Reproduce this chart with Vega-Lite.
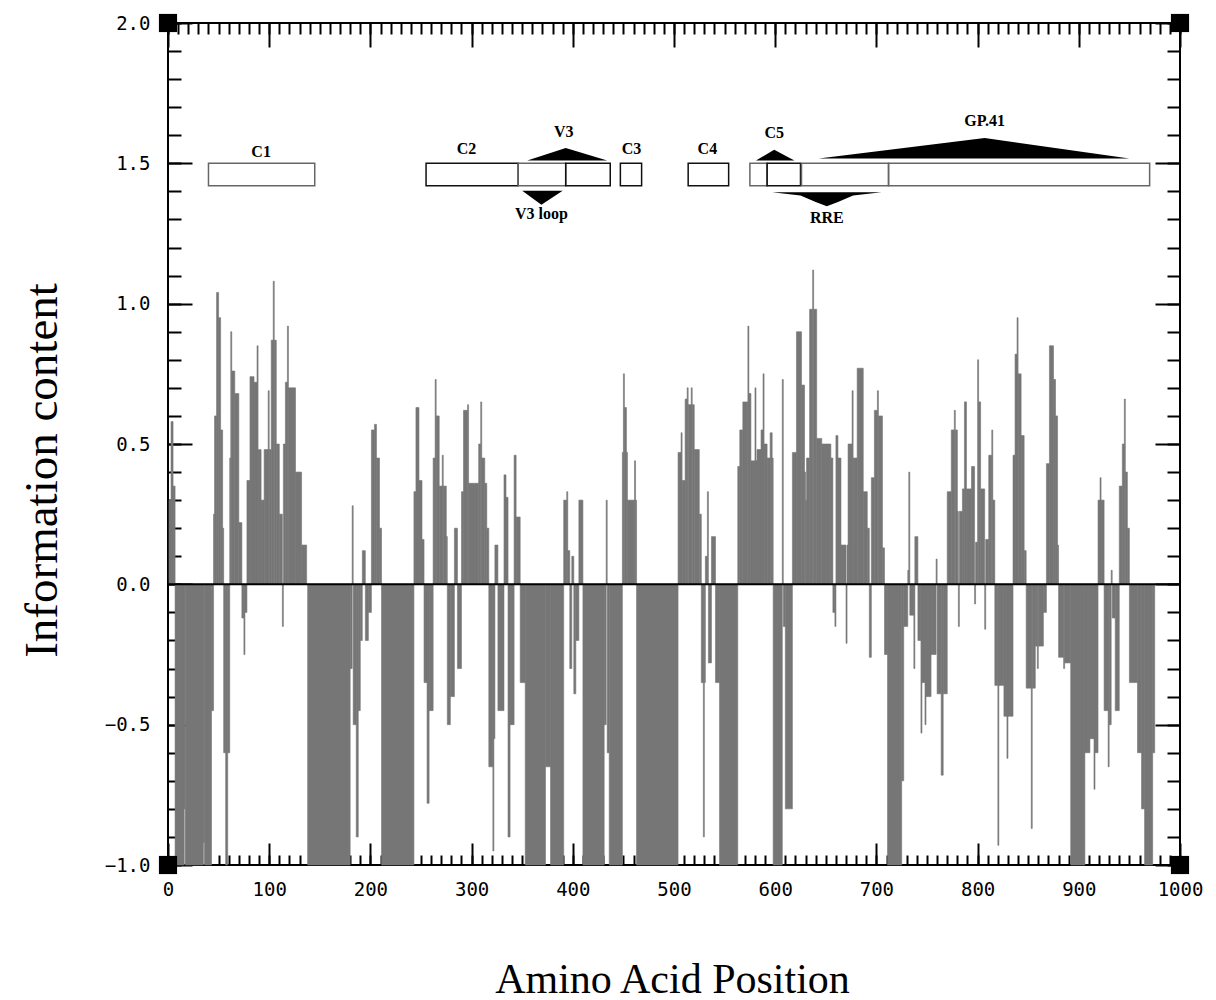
{
  "$schema": "https://vega.github.io/schema/vega-lite/v6.json",
  "width": 1012,
  "height": 842,
  "autosize": {"type": "none"},
  "padding": {"left": 168, "top": 23, "right": 36, "bottom": 135},
  "background": "white",
  "config": {
    "view": {"stroke": "black", "strokeWidth": 2},
    "axis": {"grid": false, "domain": false, "tickColor": "black", "tickWidth": 2, "labelFont": "DejaVu Sans Mono", "labelFontSize": 19, "labelColor": "black", "labelFlush": false, "labelOverlap": false, "labelBound": false, "titleFont": "Liberation Serif", "titleFontWeight": "normal", "titleColor": "black"}
  },
  "resolve": {"axis": {"x": "independent", "y": "independent"}},
  "datasets": {
    "ic": [
      {"s":1,"e":3,"v":0.3},{"s":3,"e":5,"v":0.58},{"s":5,"e":7,"v":0.35},{"s":7,"e":16,"v":-1},{"s":16,"e":17,"v":-0.8},{"s":17,"e":35,"v":-1},{"s":35,"e":36,"v":-0.92},{"s":36,"e":43,"v":-1},{"s":43,"e":45,"v":-0.45},
      {"s":45,"e":46,"v":0.25},{"s":46,"e":48,"v":0.6},{"s":48,"e":50,"v":1.04},{"s":50,"e":52,"v":0.95},{"s":52,"e":54,"v":0.55},{"s":54,"e":55,"v":0.2},{"s":55,"e":57,"v":-0.6},{"s":57,"e":59,"v":-1},{"s":59,"e":61,"v":-0.6},
      {"s":61,"e":62,"v":0.45},{"s":62,"e":63,"v":0.9},{"s":63,"e":66,"v":0.76},{"s":66,"e":70,"v":0.68},{"s":70,"e":73,"v":0.22},{"s":73,"e":75,"v":-0.12},{"s":75,"e":76,"v":-0.25},{"s":76,"e":78,"v":-0.1},
      {"s":78,"e":81,"v":0.37},{"s":81,"e":85,"v":0.74},{"s":85,"e":88,"v":0.72},{"s":88,"e":89,"v":0.85},{"s":89,"e":92,"v":0.48},{"s":92,"e":95,"v":0.3},{"s":95,"e":99,"v":0.48},{"s":99,"e":100,"v":0.69},{"s":100,"e":102,"v":0.48},
      {"s":102,"e":104,"v":0.87},{"s":104,"e":105,"v":1.08},{"s":105,"e":107,"v":0.87},{"s":107,"e":110,"v":0.5},{"s":110,"e":113,"v":0.25},{"s":113,"e":114,"v":-0.15},{"s":114,"e":116,"v":0.5},{"s":116,"e":118,"v":0.72},
      {"s":118,"e":119,"v":0.92},{"s":119,"e":126,"v":0.7},{"s":126,"e":132,"v":0.4},{"s":132,"e":137,"v":0.14},{"s":138,"e":180,"v":-1},{"s":180,"e":182,"v":-0.3},{"s":182,"e":183,"v":0.28},{"s":183,"e":186,"v":-0.5},
      {"s":186,"e":188,"v":-0.9},{"s":188,"e":190,"v":-0.45},{"s":190,"e":192,"v":-0.2},{"s":192,"e":195,"v":0.12},{"s":195,"e":198,"v":-0.2},{"s":198,"e":201,"v":-0.1},{"s":201,"e":204,"v":0.55},{"s":204,"e":206,"v":0.57},
      {"s":206,"e":209,"v":0.45},{"s":209,"e":211,"v":0.2},{"s":211,"e":243,"v":-1},{"s":243,"e":245,"v":0.33},{"s":245,"e":248,"v":0.63},{"s":248,"e":251,"v":0.37},{"s":251,"e":253,"v":0.16},{"s":253,"e":256,"v":-0.35},
      {"s":256,"e":258,"v":-0.78},{"s":258,"e":262,"v":-0.45},{"s":262,"e":264,"v":0.45},{"s":264,"e":265,"v":0.73},{"s":265,"e":268,"v":0.6},{"s":268,"e":271,"v":0.35},{"s":271,"e":272,"v":0.46},{"s":272,"e":275,"v":0.35},
      {"s":275,"e":276,"v":0.17},{"s":276,"e":279,"v":-0.5},{"s":279,"e":283,"v":-0.4},{"s":283,"e":286,"v":0.2},{"s":286,"e":290,"v":-0.3},{"s":290,"e":292,"v":0.33},{"s":292,"e":296,"v":0.62},{"s":296,"e":297,"v":0.64},
      {"s":297,"e":307,"v":0.36},{"s":307,"e":309,"v":0.5},{"s":309,"e":310,"v":0.65},{"s":310,"e":313,"v":0.45},{"s":313,"e":315,"v":0.36},{"s":315,"e":317,"v":0.2},{"s":317,"e":321,"v":-0.65},{"s":321,"e":322,"v":-0.95},
      {"s":322,"e":323,"v":-0.55},{"s":323,"e":326,"v":0.14},{"s":326,"e":332,"v":-0.45},{"s":332,"e":334,"v":0.39},{"s":334,"e":336,"v":0.31},{"s":336,"e":338,"v":-0.9},{"s":338,"e":342,"v":-0.5},{"s":342,"e":344,"v":0.46},
      {"s":344,"e":348,"v":0.24},{"s":348,"e":353,"v":-0.35},{"s":353,"e":373,"v":-1},{"s":373,"e":378,"v":-0.65},{"s":378,"e":391,"v":-1},{"s":391,"e":394,"v":0.3},{"s":394,"e":395,"v":0.33},{"s":395,"e":397,"v":0.12},
      {"s":397,"e":399,"v":-0.3},{"s":399,"e":401,"v":0.1},{"s":401,"e":403,"v":-0.39},{"s":403,"e":406,"v":-0.2},{"s":406,"e":410,"v":0.3},{"s":410,"e":431,"v":-1},{"s":431,"e":433,"v":-0.5},{"s":433,"e":434,"v":0.3},
      {"s":434,"e":436,"v":-0.6},{"s":436,"e":449,"v":-1},{"s":449,"e":450,"v":0.47},{"s":450,"e":451,"v":0.75},{"s":451,"e":453,"v":0.63},{"s":453,"e":454,"v":0.47},{"s":454,"e":461,"v":0.3},{"s":461,"e":462,"v":0.44},
      {"s":462,"e":463,"v":0.3},{"s":463,"e":504,"v":-1},{"s":504,"e":507,"v":0.47},{"s":507,"e":508,"v":0.54},{"s":508,"e":511,"v":0.37},{"s":511,"e":513,"v":0.66},{"s":513,"e":514,"v":0.7},{"s":514,"e":517,"v":0.64},
      {"s":517,"e":518,"v":0.7},{"s":518,"e":520,"v":0.64},{"s":520,"e":525,"v":0.48},{"s":525,"e":527,"v":0.25},{"s":527,"e":529,"v":-0.35},{"s":529,"e":530,"v":-0.9},{"s":530,"e":531,"v":-0.35},{"s":531,"e":533,"v":0.1},
      {"s":533,"e":534,"v":0.33},{"s":534,"e":537,"v":-0.28},{"s":537,"e":541,"v":0.17},{"s":541,"e":545,"v":-0.35},{"s":545,"e":563,"v":-1},{"s":563,"e":565,"v":0.42},{"s":565,"e":568,"v":0.55},{"s":568,"e":573,"v":0.65},
      {"s":573,"e":574,"v":0.92},{"s":574,"e":576,"v":0.68},{"s":576,"e":580,"v":0.44},{"s":580,"e":581,"v":0.7},{"s":581,"e":582,"v":0.44},{"s":582,"e":586,"v":0.48},{"s":586,"e":588,"v":0.55},{"s":588,"e":589,"v":0.75},
      {"s":589,"e":592,"v":0.5},{"s":592,"e":595,"v":0.45},{"s":595,"e":597,"v":0.54},{"s":597,"e":598,"v":0.45},{"s":598,"e":607,"v":-1},{"s":607,"e":608,"v":0.73},{"s":608,"e":610,"v":-0.15},{"s":610,"e":617,"v":-0.8},
      {"s":617,"e":621,"v":0.47},{"s":621,"e":626,"v":0.9},{"s":626,"e":629,"v":0.71},{"s":629,"e":630,"v":0.4},{"s":630,"e":631,"v":0.3},{"s":631,"e":634,"v":0.45},{"s":634,"e":637,"v":0.98},{"s":637,"e":638,"v":1.12},
      {"s":638,"e":641,"v":0.98},{"s":641,"e":646,"v":0.52},{"s":646,"e":655,"v":0.5},{"s":655,"e":657,"v":0.45},{"s":657,"e":659,"v":-0.1},{"s":659,"e":660,"v":-0.15},{"s":660,"e":662,"v":0.53},{"s":662,"e":665,"v":0.45},
      {"s":665,"e":670,"v":0.14},{"s":670,"e":671,"v":-0.21},{"s":671,"e":672,"v":0.14},{"s":672,"e":676,"v":0.5},{"s":676,"e":677,"v":0.69},{"s":677,"e":681,"v":0.45},{"s":681,"e":687,"v":0.77},{"s":687,"e":691,"v":0.33},
      {"s":691,"e":693,"v":0.2},{"s":693,"e":695,"v":-0.26},{"s":695,"e":698,"v":0.38},{"s":698,"e":701,"v":0.62},{"s":701,"e":702,"v":0.69},{"s":702,"e":706,"v":0.6},{"s":706,"e":708,"v":0.13},{"s":708,"e":711,"v":-0.25},
      {"s":711,"e":725,"v":-1},{"s":725,"e":727,"v":-0.7},{"s":727,"e":731,"v":-0.15},{"s":731,"e":732,"v":0.05},{"s":732,"e":733,"v":0.4},{"s":733,"e":737,"v":-0.11},{"s":737,"e":738,"v":-0.3},{"s":738,"e":741,"v":0.17},
      {"s":741,"e":744,"v":-0.2},{"s":744,"e":745,"v":-0.53},{"s":745,"e":748,"v":-0.35},{"s":748,"e":749,"v":-0.5},{"s":749,"e":754,"v":-0.4},{"s":754,"e":759,"v":-0.25},{"s":759,"e":760,"v":0.09},{"s":760,"e":764,"v":-0.39},
      {"s":764,"e":766,"v":-0.68},{"s":766,"e":770,"v":-0.39},{"s":770,"e":774,"v":0.33},{"s":774,"e":777,"v":0.55},{"s":777,"e":778,"v":0.62},{"s":778,"e":780,"v":0.55},{"s":780,"e":781,"v":0.26},{"s":781,"e":782,"v":-0.15},
      {"s":782,"e":785,"v":0.26},{"s":785,"e":787,"v":0.34},{"s":787,"e":789,"v":0.65},{"s":789,"e":794,"v":0.34},{"s":794,"e":797,"v":0.42},{"s":797,"e":798,"v":-0.07},{"s":798,"e":800,"v":0.15},{"s":800,"e":801,"v":0.8},
      {"s":801,"e":803,"v":0.65},{"s":803,"e":807,"v":0.34},{"s":807,"e":808,"v":-0.16},{"s":808,"e":811,"v":0.16},{"s":811,"e":814,"v":0.46},{"s":814,"e":815,"v":0.55},{"s":815,"e":817,"v":0.3},{"s":817,"e":820,"v":-0.36},
      {"s":820,"e":821,"v":-0.93},{"s":821,"e":826,"v":-0.36},{"s":826,"e":829,"v":-0.47},{"s":829,"e":830,"v":-0.62},{"s":830,"e":835,"v":-0.47},{"s":835,"e":837,"v":0.46},{"s":837,"e":839,"v":0.82},{"s":839,"e":840,"v":0.95},
      {"s":840,"e":843,"v":0.75},{"s":843,"e":846,"v":0.53},{"s":846,"e":848,"v":0.12},{"s":848,"e":853,"v":-0.37},{"s":853,"e":854,"v":-0.87},{"s":854,"e":857,"v":-0.37},{"s":857,"e":859,"v":-0.22},{"s":859,"e":860,"v":-0.3},
      {"s":860,"e":865,"v":-0.22},{"s":865,"e":868,"v":-0.1},{"s":868,"e":871,"v":0.43},{"s":871,"e":875,"v":0.85},{"s":875,"e":877,"v":0.73},{"s":877,"e":879,"v":0.6},{"s":879,"e":880,"v":0.14},{"s":880,"e":885,"v":-0.26},
      {"s":885,"e":886,"v":-0.3},{"s":886,"e":892,"v":-0.28},{"s":892,"e":906,"v":-1},{"s":906,"e":911,"v":-0.6},{"s":911,"e":915,"v":-0.55},{"s":915,"e":916,"v":-0.73},{"s":916,"e":919,"v":-0.6},{"s":919,"e":921,"v":0.3},
      {"s":921,"e":922,"v":0.38},{"s":922,"e":925,"v":0.3},{"s":925,"e":929,"v":-0.45},{"s":929,"e":930,"v":-0.65},{"s":930,"e":932,"v":-0.5},{"s":932,"e":933,"v":0.05},{"s":933,"e":936,"v":-0.12},{"s":936,"e":940,"v":-0.45},
      {"s":940,"e":943,"v":0.35},{"s":943,"e":945,"v":0.5},{"s":945,"e":946,"v":0.66},{"s":946,"e":948,"v":0.4},{"s":948,"e":950,"v":0.2},{"s":950,"e":958,"v":-0.35},{"s":958,"e":962,"v":-0.6},{"s":962,"e":965,"v":-0.8},
      {"s":965,"e":973,"v":-1},{"s":973,"e":975,"v":-0.6}
    ],
    "zero": [{"x0": 0, "x1": 1000, "y0": 0}],
    "corners": [{"cx": 0, "cy": 2}, {"cx": 1000, "cy": 2}, {"cx": 0, "cy": -1}, {"cx": 1000, "cy": -1}],
    "boxes": [
      {"name": "C1", "bs": 40, "be": 145, "by": 1.42, "by2": 1.5, "style": "dotted"},
      {"name": "C2", "bs": 255, "be": 346, "by": 1.42, "by2": 1.5, "style": "solid"},
      {"name": "V3 loop", "bs": 346, "be": 393, "by": 1.42, "by2": 1.5, "style": "dotted"},
      {"name": "V3", "bs": 393, "be": 437, "by": 1.42, "by2": 1.5, "style": "solid"},
      {"name": "C3", "bs": 447, "be": 468, "by": 1.42, "by2": 1.5, "style": "solid"},
      {"name": "C4", "bs": 514, "be": 554, "by": 1.42, "by2": 1.5, "style": "solid"},
      {"name": "C5a", "bs": 575, "be": 592, "by": 1.42, "by2": 1.5, "style": "dotted"},
      {"name": "C5b", "bs": 592, "be": 625, "by": 1.42, "by2": 1.5, "style": "solid"},
      {"name": "GP41a", "bs": 626, "be": 712, "by": 1.42, "by2": 1.5, "style": "dotted"},
      {"name": "GP41b", "bs": 712, "be": 970, "by": 1.42, "by2": 1.5, "style": "dotted"}
    ],
    "tri": [
      {"t": "V3", "x": 355, "y": 1.51, "y2": 1.51}, {"t": "V3", "x": 393, "y": 1.555, "y2": 1.51}, {"t": "V3", "x": 434, "y": 1.51, "y2": 1.51},
      {"t": "V3loop", "x": 350, "y": 1.402, "y2": 1.402}, {"t": "V3loop", "x": 369, "y": 1.402, "y2": 1.352}, {"t": "V3loop", "x": 390, "y": 1.402, "y2": 1.402},
      {"t": "C5", "x": 581, "y": 1.51, "y2": 1.51}, {"t": "C5", "x": 599, "y": 1.548, "y2": 1.51}, {"t": "C5", "x": 619, "y": 1.51, "y2": 1.51},
      {"t": "GP41", "x": 643, "y": 1.517, "y2": 1.517}, {"t": "GP41", "x": 807, "y": 1.59, "y2": 1.517}, {"t": "GP41", "x": 950, "y": 1.517, "y2": 1.517},
      {"t": "RRE", "x": 597, "y": 1.397, "y2": 1.397}, {"t": "RRE", "x": 625, "y": 1.397, "y2": 1.385}, {"t": "RRE", "x": 640, "y": 1.397, "y2": 1.362}, {"t": "RRE", "x": 651, "y": 1.397, "y2": 1.347}, {"t": "RRE", "x": 662, "y": 1.397, "y2": 1.362}, {"t": "RRE", "x": 677, "y": 1.397, "y2": 1.385}, {"t": "RRE", "x": 705, "y": 1.397, "y2": 1.397}
    ],
    "labels": [
      {"lab": "C1", "x": 92, "y": 1.539},
      {"lab": "C2", "x": 295, "y": 1.55},
      {"lab": "V3", "x": 391, "y": 1.61},
      {"lab": "C3", "x": 458, "y": 1.55},
      {"lab": "C4", "x": 533, "y": 1.55},
      {"lab": "C5", "x": 599, "y": 1.607},
      {"lab": "GP.41", "x": 807, "y": 1.65},
      {"lab": "V3 loop", "x": 369, "y": 1.318},
      {"lab": "RRE", "x": 651, "y": 1.307}
    ]
  },
  "layer": [
    {
      "data": {"name": "ic"},
      "mark": {"type": "rect", "color": "#767676", "stroke": "#767676", "strokeWidth": 0.6},
      "encoding": {
        "x": {"field": "s", "type": "quantitative", "scale": {"domain": [0, 1000], "nice": false, "zero": false},
          "axis": {"orient": "bottom", "values": [0,100,200,300,400,500,600,700,800,900,1000], "format": "d", "tickSize": -22, "labelPadding": 37, "labelBaseline": "top",
            "title": "Amino Acid Position", "titleFontSize": 42, "titleBaseline": "alphabetic", "titleX": 504, "titleY": 127, "titleAlign": "center"}},
        "x2": {"field": "e"},
        "y": {"field": "v", "type": "quantitative", "scale": {"domain": [-1, 2], "nice": false, "zero": false},
          "axis": {"orient": "left", "values": [-1,-0.5,0,0.5,1,1.5,2], "format": ".1f", "tickSize": -24, "labelPadding": 42,
            "title": "Information content", "titleFontSize": 47, "titleX": -126, "titleY": 447, "titleBaseline": "middle", "titleAngle": -90, "titleAlign": "center"}},
        "y2": {"datum": 0}
      }
    },
    {
      "data": {"name": "zero"},
      "mark": {"type": "rule", "color": "black", "strokeWidth": 2},
      "encoding": {
        "x": {"field": "x0", "type": "quantitative",
          "axis": {"orient": "bottom", "values": [0,10,20,30,40,50,60,70,80,90,100,110,120,130,140,150,160,170,180,190,200,210,220,230,240,250,260,270,280,290,300,310,320,330,340,350,360,370,380,390,400,410,420,430,440,450,460,470,480,490,500,510,520,530,540,550,560,570,580,590,600,610,620,630,640,650,660,670,680,690,700,710,720,730,740,750,760,770,780,790,800,810,820,830,840,850,860,870,880,890,900,910,920,930,940,950,960,970,980,990,1000], "tickSize": -10, "labels": false, "title": null}},
        "x2": {"field": "x1"},
        "y": {"field": "y0", "type": "quantitative",
          "axis": {"orient": "left", "values": [-1,-0.9,-0.8,-0.7,-0.6,-0.5,-0.4,-0.3,-0.2,-0.1,0,0.1,0.2,0.3,0.4,0.5,0.6,0.7,0.8,0.9,1,1.1,1.2,1.3,1.4,1.5,1.6,1.7,1.8,1.9,2], "tickSize": -13, "labels": false, "title": null}}
      }
    },
    {
      "data": {"name": "boxes"},
      "mark": {"type": "rect", "filled": false, "strokeWidth": 1.5},
      "encoding": {
        "x": {"field": "bs", "type": "quantitative",
          "axis": {"orient": "top", "values": [0,10,20,30,40,50,60,70,80,90,100,110,120,130,140,150,160,170,180,190,200,210,220,230,240,250,260,270,280,290,300,310,320,330,340,350,360,370,380,390,400,410,420,430,440,450,460,470,480,490,500,510,520,530,540,550,560,570,580,590,600,610,620,630,640,650,660,670,680,690,700,710,720,730,740,750,760,770,780,790,800,810,820,830,840,850,860,870,880,890,900,910,920,930,940,950,960,970,980,990,1000], "tickSize": -11, "labels": false, "title": null}},
        "x2": {"field": "be"},
        "y": {"field": "by", "type": "quantitative",
          "axis": {"orient": "right", "values": [-1,-0.9,-0.8,-0.7,-0.6,-0.5,-0.4,-0.3,-0.2,-0.1,0,0.1,0.2,0.3,0.4,0.5,0.6,0.7,0.8,0.9,1,1.1,1.2,1.3,1.4,1.5,1.6,1.7,1.8,1.9,2], "tickSize": -13, "labels": false, "title": null}},
        "y2": {"field": "by2"},
        "color": {"field": "style", "type": "nominal", "scale": {"domain": ["solid", "dotted"], "range": ["#111111", "#666666"]}, "legend": null},
        "strokeDash": {"field": "style", "type": "nominal", "scale": {"domain": ["solid", "dotted"], "range": [[1, 0], [2, 1.5]]}, "legend": null}
      }
    },
    {
      "data": {"name": "corners"},
      "mark": {"type": "point", "shape": "square", "filled": true, "color": "black", "size": 330, "opacity": 1},
      "encoding": {
        "x": {"field": "cx", "type": "quantitative",
          "axis": {"orient": "top", "values": [0,100,200,300,400,500,600,700,800,900,1000], "tickSize": -24, "labels": false, "title": null}},
        "y": {"field": "cy", "type": "quantitative",
          "axis": {"orient": "right", "values": [-1,-0.5,0,0.5,1,1.5,2], "tickSize": -25, "labels": false, "title": null}}
      }
    },
    {
      "data": {"name": "tri"},
      "mark": {"type": "area", "color": "black", "opacity": 1},
      "encoding": {
        "x": {"field": "x", "type": "quantitative", "axis": null},
        "y": {"field": "y", "type": "quantitative", "axis": null},
        "y2": {"field": "y2"},
        "detail": {"field": "t", "type": "nominal"}
      }
    },
    {
      "data": {"name": "labels"},
      "mark": {"type": "text", "font": "Liberation Serif", "fontWeight": "bold", "fontSize": 16, "color": "black", "align": "center", "baseline": "middle"},
      "encoding": {
        "x": {"field": "x", "type": "quantitative", "axis": null},
        "y": {"field": "y", "type": "quantitative", "axis": null},
        "text": {"field": "lab"}
      }
    }
  ]
}
